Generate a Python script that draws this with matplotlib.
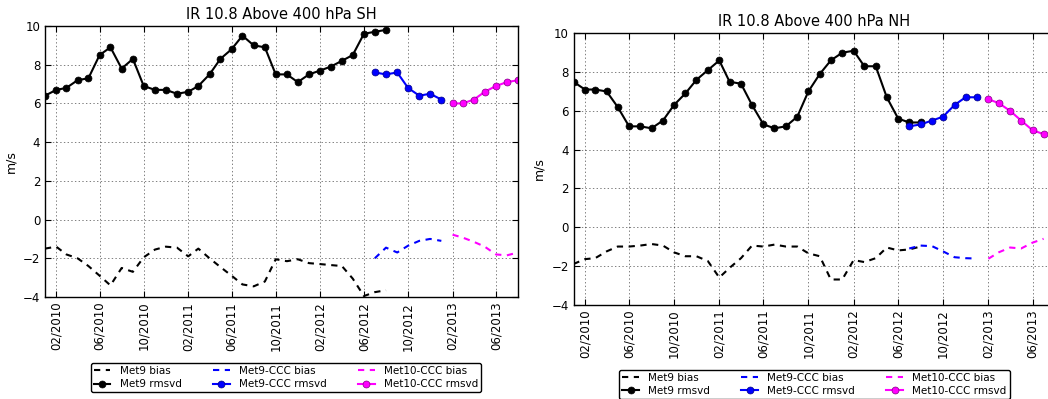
import numpy as np
import pandas as pd
import matplotlib
matplotlib.use("Agg")
import matplotlib.pyplot as plt
import matplotlib.dates as mdates

plt.rcParams['font.family'] = ['DejaVu Sans']
plt.rcParams['lines.scale_dashes'] = False

# Monthly sampling periods for each instrument
met9_months = pd.date_range('2010-01-01', '2012-08-01', freq='MS')
met9ccc_months = pd.date_range('2012-07-01', '2013-01-01', freq='MS')
met10_sh_months = pd.date_range('2013-02-01', '2013-08-01', freq='MS')
met10_nh_months = pd.date_range('2013-02-01', '2013-07-01', freq='MS')

# Southern hemisphere (m/s)
sh_met9_rmsvd = [6.4, 6.7, 6.8, 7.2, 7.3, 8.5, 8.9, 7.8, 8.3, 6.9, 6.7, 6.7, 6.5, 6.6, 6.9, 7.5,
                 8.3, 8.8, 9.5, 9.0, 8.9, 7.5, 7.5, 7.1, 7.5, 7.7, 7.9, 8.2, 8.5, 9.6, 9.7, 9.8]
sh_met9_bias = [-1.5, -1.4, -1.8, -2.0, -2.4, -2.9, -3.4, -2.5, -2.7, -1.95, -1.55, -1.4, -1.45, -1.9,
                -1.5, -2.0, -2.45, -2.9, -3.35, -3.45, -3.2, -2.05, -2.15, -2.05, -2.25, -2.3, -2.35,
                -2.4, -3.05, -3.95, -3.75, -3.65]
sh_met9ccc_rmsvd = [7.6, 7.5, 7.6, 6.8, 6.4, 6.5, 6.2]
sh_met9ccc_bias = [-2.0, -1.45, -1.7, -1.35, -1.1, -1.0, -1.1]
sh_met10_rmsvd = [6.0, 6.0, 6.2, 6.6, 6.9, 7.1, 7.2]
sh_met10_bias = [-0.78, -0.93, -1.15, -1.4, -1.8, -1.85, -1.7]

# Northern hemisphere (m/s)
nh_met9_rmsvd = [7.5, 7.1, 7.1, 7.0, 6.2, 5.2, 5.2, 5.1, 5.5, 6.3, 6.9, 7.6, 8.1, 8.6, 7.5, 7.4,
                 6.3, 5.3, 5.1, 5.2, 5.7, 7.0, 7.9, 8.6, 9.0, 9.1, 8.3, 8.3, 6.7, 5.6, 5.4, 5.4]
nh_met9_bias = [-1.9, -1.65, -1.6, -1.25, -1.0, -1.0, -0.95, -0.87, -0.95, -1.3, -1.5, -1.5, -1.75,
                -2.6, -2.1, -1.6, -0.95, -1.0, -0.9, -1.0, -1.0, -1.35, -1.5, -2.7, -2.7, -1.7,
                -1.8, -1.6, -1.05, -1.2, -1.15, -1.0]
nh_met9ccc_rmsvd = [5.2, 5.3, 5.5, 5.7, 6.3, 6.7, 6.7]
nh_met9ccc_bias = [-1.1, -0.95, -0.98, -1.25, -1.55, -1.6, -1.62]
nh_met10_rmsvd = [6.6, 6.4, 6.0, 5.5, 5.0, 4.8]
nh_met10_bias = [-1.63, -1.3, -1.05, -1.1, -0.8, -0.6]

titles = ['IR 10.8 Above 400 hPa SH', 'IR 10.8 Above 400 hPa NH']
series_names = ['Met9', 'Met9-CCC', 'Met10-CCC']
colors = ['black', 'blue', 'magenta']

W, H = 1048, 399
fig = plt.figure(figsize=(W / 100, H / 100), dpi=100)


def px_axes(left, top, right, bottom):
    return fig.add_axes([left / W, 1 - bottom / H, (right - left) / W, (bottom - top) / H])


ax_sh = px_axes(45, 26, 518, 297)
ax_nh = px_axes(573.5, 33.3, 1055, 304.7)


def draw_panel(ax, title, month_sets, rmsvd_sets, bias_sets, legend_center, legend_top):
    handles = []
    labels = []
    for name, color, months, rmsvd, bias in zip(series_names, colors, month_sets, rmsvd_sets, bias_sets):
        hb, = ax.plot(months, bias, color=color, lw=1.5, dashes=(4.5, 4.0))
        mec = 'k' if color == 'black' else ('#000080' if color == 'blue' else '#800080')
        hr, = ax.plot(months, rmsvd, color=color, lw=1.5, marker='o', ms=5,
                      mec=mec, mew=0.5)
        handles += [hb, hr]
        labels += [f'{name} bias', f'{name} rmsvd']
    ax.set_xlim(pd.Timestamp('2010-01-01'), pd.Timestamp('2013-08-01'))
    ax.set_ylim(-4, 10)
    ax.set_yticks(np.arange(-4, 11, 2))
    ax.xaxis.set_major_locator(mdates.MonthLocator(bymonth=[2, 6, 10]))
    ax.xaxis.set_major_formatter(mdates.DateFormatter('%m/%Y'))
    ax.tick_params(axis='x', labelrotation=90, labelsize=8.5)
    ax.tick_params(axis='y', labelsize=8.5)
    ax.tick_params(direction='in', top=True, right=True, length=4, width=0.8)
    ax.grid(True, color='k', linestyle=':', linewidth=0.5, alpha=0.7)
    for sp in ax.spines.values():
        sp.set_linewidth(1.0)
    ax.set_ylabel('m/s', fontsize=9)
    ax.set_title(title, fontsize=10.5, pad=5)
    leg = fig.legend(handles, labels, ncol=3, loc='upper center',
                     bbox_to_anchor=(legend_center / W, 1 - legend_top / H),
                     borderaxespad=0, fontsize=7.5, handlelength=1.6,
                     columnspacing=3.0, handletextpad=0.9, labelspacing=0.3,
                     borderpad=0.3, fancybox=True, framealpha=1)
    leg.get_frame().set_edgecolor('black')
    leg.get_frame().set_linewidth(1.0)


draw_panel(ax_sh, titles[0],
           [met9_months, met9ccc_months, met10_sh_months],
           [sh_met9_rmsvd, sh_met9ccc_rmsvd, sh_met10_rmsvd],
           [sh_met9_bias, sh_met9ccc_bias, sh_met10_bias],
           286, 363)
draw_panel(ax_nh, titles[1],
           [met9_months, met9ccc_months, met10_nh_months],
           [nh_met9_rmsvd, nh_met9ccc_rmsvd, nh_met10_rmsvd],
           [nh_met9_bias, nh_met9ccc_bias, nh_met10_bias],
           814.5, 369.5)

fig.savefig('out.png', dpi=100)
